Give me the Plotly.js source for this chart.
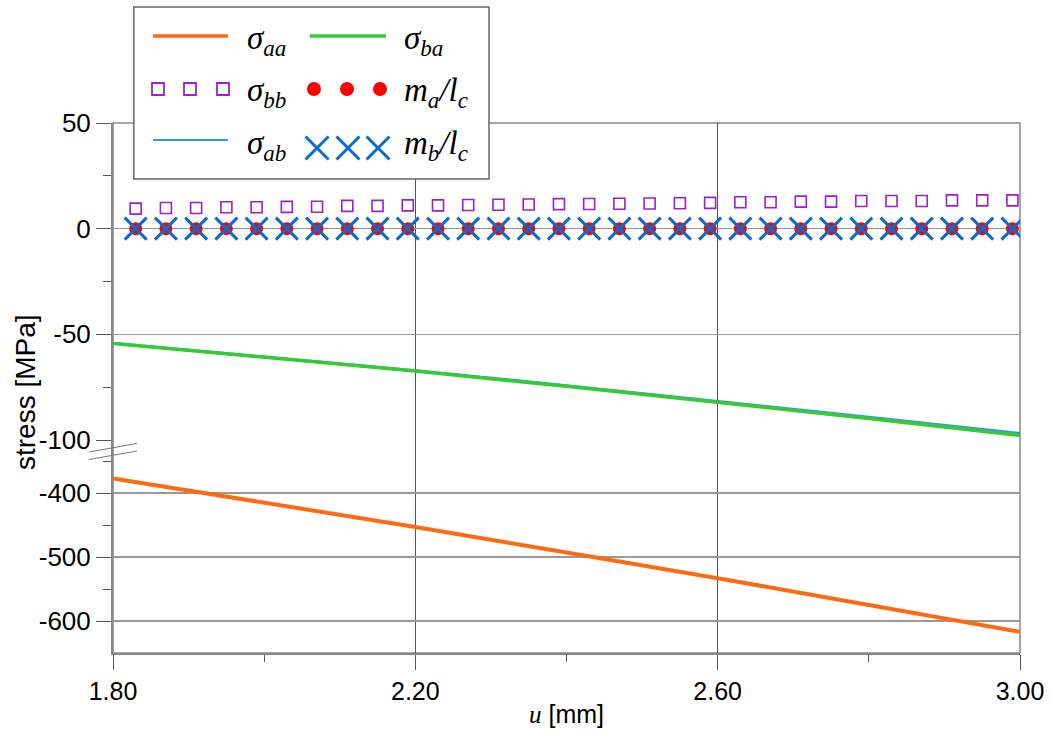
<!DOCTYPE html>
<html>
<head>
<meta charset="utf-8">
<script src="https://cdn.plot.ly/plotly-3.0.1.min.js"></script>
<style>html,body{margin:0;padding:0;background:#fff;}#chart{width:1051px;height:736px;}</style>
</head>
<body>
<div id="chart"></div>
<script>
// ---- data ----
const u_line   = [1.80, 2.00, 2.20, 2.40, 2.60, 2.80, 3.00];
const sigma_aa = [-377, -415, -453, -493, -533, -575, -617];
const sigma_ba = [-54.3, -60.8, -67.4, -74.6, -82.0, -89.8, -97.8];
const sigma_ab = [-54.2, -60.7, -67.2, -74.3, -81.6, -89.2, -96.9];
const u_mark   = [1.83, 1.87, 1.91, 1.95, 1.99, 2.03, 2.07, 2.11, 2.15, 2.19,
                  2.23, 2.27, 2.31, 2.35, 2.39, 2.43, 2.47, 2.51, 2.55, 2.59,
                  2.63, 2.67, 2.71, 2.75, 2.79, 2.83, 2.87, 2.91, 2.95, 2.99];
const sigma_bb = [9.5, 9.8, 9.8, 10.1, 10.1, 10.3, 10.4, 10.8, 10.8, 11.0,
                  11.0, 11.2, 11.3, 11.4, 11.6, 11.7, 11.8, 11.9, 12.0, 12.2,
                  12.5, 12.5, 12.8, 12.8, 13.1, 13.1, 13.1, 13.4, 13.4, 13.4];
const ma_lc    = [0,0,0,0,0,0,0,0,0,0, 0,0,0,0,0,0,0,0,0,0, 0,0,0,0,0,0,0,0,0,0];
const mb_lc    = [0,0,0,0,0,0,0,0,0,0, 0,0,0,0,0,0,0,0,0,0, 0,0,0,0,0,0,0,0,0,0];

const xTickVals = [1.8, 2.2, 2.6, 3.0];
const xTickText = ['1.80', '2.20', '2.60', '3.00'];
const yUpTickVals = [50, 0, -50, -100];
const yUpTickText = ['50', '0', '-50', '-100'];
const yLoTickVals = [-400, -500, -600];
const yLoTickText = ['-400', '-500', '-600'];

const names = {
  saa: '<i>σ<sub>aa</sub></i>',
  sba: '<i>σ<sub>ba</sub></i>',
  sbb: '<i>σ<sub>bb</sub></i>',
  sab: '<i>σ<sub>ab</sub></i>',
  ma:  '<i>m<sub>a</sub>/l<sub>c</sub></i>',
  mb:  '<i>m<sub>b</sub>/l<sub>c</sub></i>'
};

// ---- styles / layout geometry (page pixels) ----
const W = 1051, H = 736;
const PX = x => x / W, PY = y => 1 - y / H;
const C = {orange:'#FF6A10', green:'#33CC33', blue:'#2E96F0', purple:'#9B1FD0', red:'#FF0000', xblue:'#0A6ACD'};
const tickFont = {family:'Liberation Sans, Arial, sans-serif', size:26, color:'#000'};

const traces = [
  {x:u_line, y:sigma_aa, xaxis:'x', yaxis:'y2', mode:'lines', line:{color:C.orange, width:4}, name:'saa'},
  {x:u_line, y:sigma_ab, xaxis:'x', yaxis:'y', mode:'lines', line:{color:C.blue, width:3}, name:'sab'},
  {x:u_line, y:sigma_ba, xaxis:'x', yaxis:'y', mode:'lines', line:{color:C.green, width:3.5}, name:'sba'},
  {x:u_mark, y:sigma_bb, xaxis:'x', yaxis:'y', mode:'markers', marker:{symbol:'square-open', size:11, color:C.purple, line:{width:1.6, color:C.purple}}, name:'sbb'},
  {x:u_mark, y:ma_lc, xaxis:'x', yaxis:'y', mode:'markers', marker:{symbol:'circle', size:13, color:C.red}, name:'ma'},
  {x:u_mark, y:mb_lc, xaxis:'x', yaxis:'y', mode:'markers', marker:{symbol:'x-thin-open', size:22, color:C.xblue, line:{width:3, color:C.xblue}}, name:'mb'}
];

// legend samples (drawn in a legend sub-area, coordinates in page pixels)
const L = {
  lineX1:[153,228], lineX2:[310,386], rows:[36,89,142],
  mk1:[158,190,223], mk2:[314,347,380], xk:[317,348,378], xRowY:148,
  lab1:245, lab2:402
};
traces.push(
  {x:L.lineX1, y:[L.rows[0],L.rows[0]], xaxis:'x2', yaxis:'y3', mode:'lines', line:{color:C.orange, width:3.5}},
  {x:L.lineX2, y:[L.rows[0],L.rows[0]], xaxis:'x2', yaxis:'y3', mode:'lines', line:{color:C.green, width:3.5}},
  {x:L.mk1, y:[L.rows[1],L.rows[1],L.rows[1]], xaxis:'x2', yaxis:'y3', mode:'markers', marker:{symbol:'square-open', size:12, color:C.purple, line:{width:1.8, color:C.purple}}},
  {x:L.mk2, y:[L.rows[1],L.rows[1],L.rows[1]], xaxis:'x2', yaxis:'y3', mode:'markers', marker:{symbol:'circle', size:14, color:C.red}},
  {x:L.lineX1, y:[140,140], xaxis:'x2', yaxis:'y3', mode:'lines', line:{color:C.blue, width:2.2}},
  {x:L.xk, y:[L.xRowY,L.xRowY,L.xRowY], xaxis:'x2', yaxis:'y3', mode:'markers', marker:{symbol:'x-thin-open', size:23, color:C.xblue, line:{width:3, color:C.xblue}}}
);
traces.forEach(t => { t.showlegend = false; t.hoverinfo = 'skip'; });

const labFont = {family:'Liberation Serif, Times New Roman, serif', size:33, color:'#000'};
function legLab(x, y, txt){
  return {x:x, y:y, xref:'x2', yref:'y3', text:txt, showarrow:false, xanchor:'left', yanchor:'middle', font:labFont};
}

const plotL = 113, plotR = 1020, plotT = 123, yBreak = 440, plotB = 653;

const layout = {
  width:W, height:H,
  margin:{l:0, r:0, t:0, b:0},
  paper_bgcolor:'#fff', plot_bgcolor:'rgba(0,0,0,0)',
  showlegend:false,
  xaxis:{
    domain:[PX(plotL), PX(plotR)], range:[1.8, 3.0], anchor:'y2',
    tickvals:xTickVals, ticktext:xTickText, tickfont:{family:'Liberation Sans, Arial, sans-serif', size:25, color:'#000'},
    ticks:'outside', ticklen:15, tickcolor:'#555', tickwidth:1,
    minor:{dtick:0.2, tick0:1.8, ticks:'outside', ticklen:7, tickcolor:'#555', showgrid:false},
    showgrid:true, gridcolor:'#555', gridwidth:1,
    showline:true, linecolor:'#888', linewidth:1.5, zeroline:false,
    title:{text:'<span style="font-family:Liberation Serif"><i>u</i></span> [mm]', font:{family:'Liberation Sans, Arial, sans-serif', size:25, color:'#000'}, standoff:2}
  },
  yaxis:{
    domain:[PY(yBreak), PY(plotT)], range:[-100, 50], anchor:'x',
    tickvals:yUpTickVals, ticktext:yUpTickText, tickfont:tickFont,
    ticks:'outside', ticklen:15, tickcolor:'#555', tickwidth:1,
    minor:{tickvals:[25, -25, -75], ticks:'outside', ticklen:8, tickcolor:'#555', showgrid:false},
    showgrid:true, gridcolor:'#999', gridwidth:1.5, zeroline:false,
    showline:true, linecolor:'#888', linewidth:2
  },
  yaxis2:{
    domain:[PY(plotB), PY(yBreak)], range:[-650, -317], anchor:'x',
    tickvals:yLoTickVals, ticktext:yLoTickText, tickfont:tickFont,
    ticks:'outside', ticklen:15, tickcolor:'#555', tickwidth:1,
    minor:{tickvals:[-350, -450, -550], ticks:'outside', ticklen:8, tickcolor:'#555', showgrid:false},
    showgrid:true, gridcolor:'#999', gridwidth:1.5, zeroline:false,
    showline:true, linecolor:'#888', linewidth:2
  },
  xaxis2:{domain:[PX(133), PX(490)], range:[133, 490], visible:false, anchor:'y3', fixedrange:true},
  yaxis3:{domain:[PY(180), PY(6)], range:[180, 6], visible:false, anchor:'x2', fixedrange:true},
  shapes:[
    // plot border
    {type:'rect', xref:'paper', yref:'paper', x0:PX(plotL), x1:PX(plotR), y0:PY(plotB), y1:PY(plotT), line:{color:'#888', width:1.5}, layer:'below'},
    // legend box
    {type:'rect', xref:'x2', yref:'y3', x0:133.8, x1:489, y0:7, y1:179, fillcolor:'#fff', line:{color:'#666', width:1.5}, layer:'below'},
    // axis break marks
    {type:'line', xref:'paper', yref:'paper', x0:PX(89), y0:PY(452), x1:PX(137), y1:PY(443.5), line:{color:'#777', width:1}},
    {type:'line', xref:'paper', yref:'paper', x0:PX(89), y0:PY(459.5), x1:PX(137), y1:PY(451), line:{color:'#777', width:1}}
  ],
  annotations:[
    {x:PX(25), y:PY(392), xref:'paper', yref:'paper', xanchor:'center', yanchor:'middle', text:'stress [MPa]', textangle:-90, showarrow:false,
     font:{family:'Liberation Sans, Arial, sans-serif', size:28, color:'#000'}},
    legLab(L.lab1, 41, names.saa),
    legLab(L.lab2, 41, names.sba),
    legLab(L.lab1, 93, names.sbb),
    legLab(L.lab2, 93, names.ma),
    legLab(L.lab1, 145, names.sab),
    legLab(L.lab2, 145, names.mb)
  ]
};

Plotly.newPlot('chart', traces, layout, {staticPlot:true, displayModeBar:false});
</script>
</body>
</html>
